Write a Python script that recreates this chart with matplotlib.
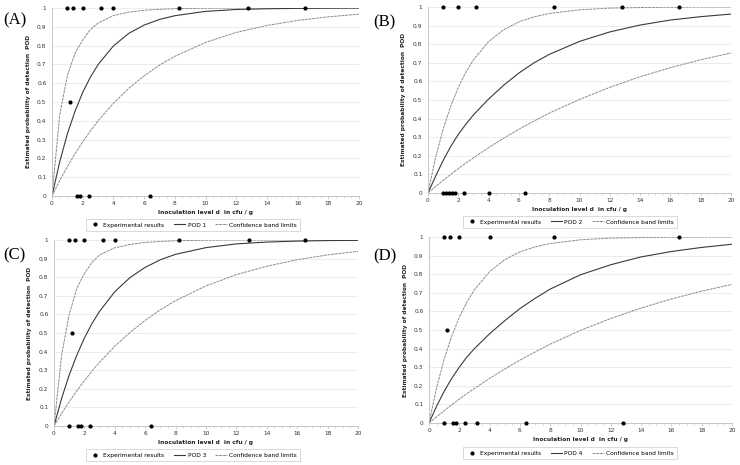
import matplotlib
matplotlib.use("Agg")
import matplotlib.pyplot as plt
from matplotlib.ticker import MultipleLocator

# ---------------- data ----------------
dose_grid = [0, 0.5, 1, 1.5, 2, 2.5, 3, 4, 5, 6, 7, 8, 10, 12, 14, 16, 18, 20]

# Panel A
a_top_x = [1.0, 1.4, 2.0, 3.2, 4.0, 8.25, 12.8, 16.5]
a_half_x = [1.2]
a_zero_x = [1.6, 1.8, 2.4, 6.4]
a_pod = [0, 0.181, 0.33, 0.451, 0.551, 0.632, 0.699, 0.798, 0.865, 0.909, 0.939, 0.959, 0.982, 0.992, 0.996, 0.998, 0.999, 1.0]
a_upper = [0, 0.43, 0.64, 0.76, 0.83, 0.885, 0.92, 0.96, 0.978, 0.988, 0.993, 0.996, 0.999, 1.0, 1.0, 1.0, 1.0, 1.0]
a_lower = [0, 0.082, 0.156, 0.225, 0.288, 0.346, 0.40, 0.493, 0.573, 0.639, 0.696, 0.743, 0.817, 0.87, 0.907, 0.934, 0.953, 0.967]

# Panel B
b_top_x = [1.0, 2.0, 3.2, 8.3, 12.8, 16.6]
b_half_x = []
b_zero_x = [1.0, 1.2, 1.4, 1.6, 1.8, 2.4, 4.0, 6.4]
b_pod = [0, 0.09, 0.175, 0.25, 0.315, 0.37, 0.42, 0.505, 0.58, 0.645, 0.70, 0.745, 0.815, 0.866, 0.903, 0.93, 0.948, 0.962]
b_upper = [0, 0.19, 0.343, 0.467, 0.568, 0.65, 0.716, 0.814, 0.878, 0.92, 0.947, 0.965, 0.985, 0.994, 0.997, 0.999, 1.0, 1.0]
b_lower = [0, 0.034, 0.068, 0.10, 0.131, 0.161, 0.189, 0.244, 0.295, 0.343, 0.387, 0.429, 0.503, 0.568, 0.625, 0.674, 0.716, 0.753]

# Panel C
c_top_x = [1.0, 1.4, 2.0, 3.2, 4.0, 8.25, 12.8, 16.5]
c_half_x = [1.2]
c_zero_x = [1.0, 1.6, 1.8, 2.4, 6.4]
c_pod = [0, 0.148, 0.274, 0.381, 0.473, 0.551, 0.617, 0.722, 0.798, 0.853, 0.894, 0.923, 0.959, 0.979, 0.989, 0.994, 0.997, 0.998]
c_upper = [0, 0.38, 0.60, 0.74, 0.82, 0.88, 0.92, 0.958, 0.976, 0.987, 0.992, 0.996, 0.999, 1.0, 1.0, 1.0, 1.0, 1.0]
c_lower = [0, 0.068, 0.131, 0.189, 0.244, 0.295, 0.343, 0.429, 0.503, 0.568, 0.625, 0.674, 0.753, 0.814, 0.859, 0.894, 0.92, 0.939]

# Panel D
d_top_x = [1.0, 1.4, 2.0, 4.0, 8.25, 16.5]
d_half_x = [1.2]
d_zero_x = [1.0, 1.6, 1.8, 2.4, 3.2, 6.4, 12.8]
d_pod = [0, 0.09, 0.17, 0.24, 0.30, 0.355, 0.40, 0.48, 0.55, 0.615, 0.67, 0.72, 0.797, 0.851, 0.893, 0.922, 0.944, 0.961]
d_upper = [0, 0.19, 0.343, 0.467, 0.568, 0.65, 0.716, 0.814, 0.878, 0.92, 0.947, 0.965, 0.985, 0.994, 0.997, 0.999, 1.0, 1.0]
d_lower = [0, 0.033, 0.066, 0.098, 0.128, 0.158, 0.186, 0.24, 0.29, 0.338, 0.382, 0.424, 0.498, 0.562, 0.618, 0.667, 0.709, 0.745]

panel_labels = ["(A)", "(B)", "(C)", "(D)"]
pod_names = ["POD 1", "POD 2", "POD 3", "POD 4"]

panels = [
    (a_top_x, a_half_x, a_zero_x, a_pod, a_upper, a_lower),
    (b_top_x, b_half_x, b_zero_x, b_pod, b_upper, b_lower),
    (c_top_x, c_half_x, c_zero_x, c_pod, c_upper, c_lower),
    (d_top_x, d_half_x, d_zero_x, d_pod, d_upper, d_lower),
]

# ---------------- layout (figure pixel boxes) ----------------
W, H = 740, 465
# (x0, x1, ytop, ybottom) of plot areas in pixels
boxes = [(52, 359, 8, 196), (428, 731, 7, 193), (54, 358, 240, 426), (429, 732, 237, 423)]
xlabel_y = [212, 209, 442, 439]
ylabel_x = [29, 403, 30, 406]
legend_c = [(193, 225), (570, 222), (193, 455), (570, 453)]
plabel_pos = [(3, 20), (373, 22), (3, 255), (373, 256)]

plt.rcParams['font.family'] = ['DejaVu Sans']
fig = plt.figure(figsize=(7.4, 4.65), dpi=100)

for i, (tx, hx, zx, pod, up, lo) in enumerate(panels):
    x0, x1, yt, yb = boxes[i]
    ax = fig.add_axes([x0 / W, 1 - yb / H, (x1 - x0) / W, (yb - yt) / H])
    ax.set_xlim(0, 20)
    ax.set_ylim(0, 1)
    ax.xaxis.set_major_locator(MultipleLocator(2))
    ax.xaxis.set_minor_locator(MultipleLocator(0.5))
    ax.grid(axis='y', color='#e4e4e4', lw=0.5)
    ax.set_axisbelow(True)
    for s in ['top', 'right']:
        ax.spines[s].set_visible(False)
    for s in ['left', 'bottom']:
        ax.spines[s].set_color('#bdbdbd')
        ax.spines[s].set_linewidth(0.6)
    ax.tick_params(axis='both', which='major', labelsize=4.2, length=2, width=0.5,
                   color='#bdbdbd', pad=1.5, labelcolor='#333333')
    ax.tick_params(axis='x', which='minor', length=1.2, width=0.4, color='#bdbdbd')
    ax.tick_params(axis='y', which='major', length=0, pad=4)
    ax.set_yticks([round(0.1 * k, 1) for k in range(11)])
    ax.set_yticklabels(['0', '0.1', '0.2', '0.3', '0.4', '0.5', '0.6', '0.7', '0.8', '0.9', '1'])

    l_up, = ax.plot(dose_grid, up, color='#8c8c8c', lw=0.7, ls=(0, (3, 0.8)))
    ax.plot(dose_grid, lo, color='#8c8c8c', lw=0.7, ls=(0, (3, 0.8)))
    l_pod, = ax.plot(dose_grid, pod, color='#3a3a3a', lw=0.8)

    pts_x = list(tx) + list(hx) + list(zx)
    pts_y = [1.0] * len(tx) + [0.5] * len(hx) + [0.0] * len(zx)
    sc, = ax.plot(pts_x, pts_y, 'o', color='black', ms=2.0, ls='none', clip_on=False, zorder=5)

    fig.text(ylabel_x[i] / W, 1 - ((yt + yb) / 2) / H, 'Estimated probability of detection  POD',
             rotation=90, ha='center', va='center', fontsize=4.2, fontweight='bold', color='#222222')
    fig.text(((x0 + x1) / 2) / W, 1 - xlabel_y[i] / H, 'Inoculation level d  in cfu / g',
             ha='center', va='center', fontsize=4.2, fontweight='bold', color='#222222')

    lx, ly = legend_c[i]
    leg = fig.legend([sc, l_pod, l_up], ['Experimental results', pod_names[i], 'Confidence band limits'],
                     loc='center', bbox_to_anchor=(lx / W, 1 - ly / H), ncol=3, fontsize=4.2,
                     frameon=True, fancybox=False, edgecolor='#bdbdbd', handlelength=2.0,
                     columnspacing=1.6, borderpad=0.6, handletextpad=0.4)
    leg.get_frame().set_linewidth(0.5)

    px, py = plabel_pos[i]
    fig.text(px / W, 1 - py / H, panel_labels[i], ha='left', va='center', fontsize=12,
             family=['Liberation Serif', 'DejaVu Serif'])

fig.savefig('out.png', dpi=100)
